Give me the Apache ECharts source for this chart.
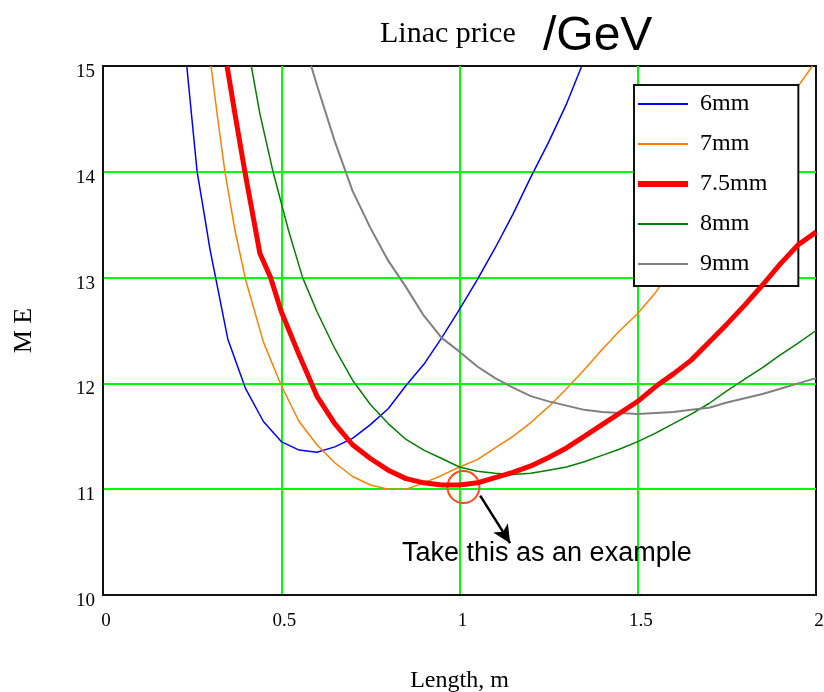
<!DOCTYPE html>
<html>
<head>
<meta charset="utf-8">
<script src="https://cdn.jsdelivr.net/npm/echarts@6/dist/echarts.min.js"></script>
<style>
html,body{margin:0;padding:0;background:#fff;}
#chart{width:824px;height:692px;}
</style>
</head>
<body>
<div id="chart"></div>
<script>
// ---- data ----
const names = ['6mm', '7mm', '7.5mm', '8mm', '9mm'];

const x6 = [0.235,0.25,0.264,0.28,0.30,0.35,0.40,0.45,0.50,0.55,0.60,0.65,0.70,0.75,0.80,0.85,0.90,0.95,1.00,1.05,1.10,1.15,1.20,1.25,1.30,1.343];
const y6 = [15,14.48,14.0,13.68,13.27,12.42,11.95,11.64,11.45,11.37,11.35,11.40,11.48,11.61,11.76,11.98,12.18,12.43,12.70,12.98,13.28,13.60,13.95,14.28,14.64,15.0];

const x7 = [0.303,0.32,0.342,0.37,0.40,0.45,0.50,0.55,0.60,0.65,0.70,0.75,0.80,0.85,0.90,0.95,1.00,1.05,1.10,1.15,1.20,1.25,1.30,1.35,1.40,1.45,1.50,1.55,1.60,1.65,1.70,1.75,1.80,1.85,1.90,1.95,1.99];
const y7 = [15,14.55,14.0,13.45,12.98,12.39,11.98,11.64,11.42,11.25,11.12,11.04,11.00,11.00,11.06,11.13,11.21,11.28,11.39,11.50,11.63,11.78,11.95,12.13,12.32,12.50,12.66,12.86,13.10,13.34,13.58,13.83,14.07,14.32,14.57,14.81,15.0];

const x75 = [0.348,0.37,0.398,0.44,0.47,0.50,0.55,0.60,0.65,0.70,0.75,0.80,0.85,0.90,0.95,1.00,1.05,1.10,1.15,1.20,1.25,1.30,1.35,1.40,1.45,1.50,1.55,1.60,1.65,1.70,1.75,1.80,1.85,1.90,1.95,2.00];
const y75 = [15,14.55,14.0,13.23,13.0,12.68,12.27,11.88,11.62,11.42,11.29,11.18,11.10,11.06,11.04,11.04,11.06,11.11,11.16,11.22,11.30,11.39,11.50,11.61,11.72,11.83,11.97,12.09,12.22,12.39,12.56,12.74,12.93,13.13,13.31,13.43];

const x8 = [0.416,0.44,0.477,0.52,0.56,0.60,0.65,0.70,0.75,0.80,0.85,0.90,0.95,1.00,1.05,1.10,1.15,1.20,1.25,1.30,1.35,1.40,1.45,1.50,1.55,1.60,1.65,1.70,1.75,1.80,1.85,1.90,1.95,2.00];
const y8 = [15,14.55,14.0,13.45,13.0,12.68,12.33,12.03,11.80,11.62,11.47,11.37,11.29,11.21,11.17,11.15,11.14,11.15,11.18,11.21,11.26,11.32,11.38,11.45,11.53,11.62,11.71,11.81,11.93,12.04,12.15,12.27,12.38,12.50];

const x9 = [0.584,0.60,0.65,0.70,0.75,0.80,0.85,0.90,0.95,1.00,1.05,1.10,1.15,1.20,1.25,1.30,1.35,1.40,1.45,1.50,1.55,1.60,1.65,1.70,1.75,1.80,1.85,1.90,1.95,2.00];
const y9 = [15,14.82,14.29,13.82,13.47,13.16,12.91,12.64,12.43,12.30,12.16,12.05,11.96,11.88,11.83,11.79,11.75,11.73,11.72,11.71,11.72,11.73,11.75,11.77,11.82,11.86,11.90,11.95,12.00,12.05];

const xTicks = ['0', '0.5', '1', '1.5', '2'];
const yTicks = ['10', '11', '12', '13', '14', '15'];

// annotation (data coordinates)
const circlePt = [1.011, 11.02];
const arrowFrom = [1.058, 10.94];
const arrowTo = [1.142, 10.49];
const notePt = [1.245, 10.39];
const noteText = 'Take this as an example';

// ---- build ----
function pairs(xs, ys){ return xs.map((x,i)=>[x, ys[i]]); }
const colors = ['#0000ff', '#ff8000', '#ff0000', '#008000', '#808080'];
const widths = [1.5, 1.5, 5, 1.5, 2];
const xs = [x6, x7, x75, x8, x9];
const ys = [y6, y7, y75, y8, y9];

const series = names.map((n, i) => ({
  name: n,
  type: 'line',
  data: pairs(xs[i], ys[i]),
  symbol: 'none',
  smooth: false,
  clip: true,
  z: i === 2 ? 5 : 3,
  lineStyle: { color: colors[i], width: widths[i] },
  itemStyle: { color: colors[i] }
}));

series[2].markPoint = {
  silent: true,
  animation: false,
  data: [
    { coord: circlePt, symbol: 'circle', symbolSize: 32,
      itemStyle: { color: 'rgba(0,0,0,0)', borderColor: '#ff4a1a', borderWidth: 2 },
      label: { show: false } },
    { coord: notePt, symbol: 'circle', symbolSize: 1,
      itemStyle: { color: 'rgba(0,0,0,0)' },
      label: { show: true, position: 'inside', formatter: noteText,
        fontFamily: 'Liberation Sans', fontSize: 27, color: '#000' } }
  ]
};
series[2].markLine = {
  silent: true,
  animation: false,
  symbol: ['none', 'arrow'],
  symbolSize: [13, 18],
  lineStyle: { color: '#000', width: 2.5, type: 'solid' },
  label: { show: false },
  data: [[{ coord: arrowFrom }, { coord: arrowTo }]]
};

const chart = echarts.init(document.getElementById('chart'), null, { renderer: 'canvas' });
chart.setOption({
  animation: false,
  backgroundColor: '#fff',
  title: [
    { text: 'Linac price', left: 375, top: 14,
      textStyle: { fontFamily: 'Liberation Serif', fontSize: 30, fontWeight: 'normal', color: '#000' } },
    { text: '/GeV', left: 538, top: 8,
      textStyle: { fontFamily: 'Liberation Sans', fontSize: 48, fontWeight: 'normal', color: '#000' } }
  ],
  grid: { left: 103, right: 8, top: 66, bottom: 97, outerBoundsMode: 'none', containLabel: false,
    show: true, borderColor: '#111', borderWidth: 2, backgroundColor: 'rgba(0,0,0,0)' },
  legend: {
    data: names.map((n, i) => ({ name: n, lineStyle: { width: i === 2 ? 6 : 2 } })),
    orient: 'vertical',
    left: 634, top: 85,
    padding: [7, 31, 10, 1],
    itemWidth: 50, itemHeight: 20, itemGap: 16,
    backgroundColor: '#fff',
    borderColor: '#111', borderWidth: 2,
    itemStyle: { opacity: 0 },
    textStyle: { fontFamily: 'Liberation Serif', fontSize: 24, color: '#000', padding: [0, 0, 0, 7] },
    selectedMode: false
  },
  xAxis: {
    type: 'value', min: 0, max: 2, interval: 0.5,
    name: 'Length, m', nameLocation: 'middle', nameGap: 74,
    nameTextStyle: { fontFamily: 'Liberation Serif', fontSize: 24, color: '#000' },
    axisLine: { show: true, onZero: false, lineStyle: { color: '#111', width: 2 } },
    axisTick: { show: false },
    axisLabel: { margin: 17, fontFamily: 'Liberation Serif', fontSize: 19, color: '#000',
      padding: [0, 0, 0, 6],
      formatter: (v) => xTicks[Math.round(v / 0.5)] },
    splitLine: { show: true, showMinLine: false, showMaxLine: false, lineStyle: { color: '#00ff00', width: 2 } }
  },
  yAxis: {
    type: 'value', min: 10, max: 15, interval: 1,
    name: 'M E', nameLocation: 'middle', nameGap: 66,
    nameTextStyle: { fontFamily: 'Liberation Serif', fontSize: 26, color: '#000' },
    axisLine: { show: true, onZero: false, lineStyle: { color: '#111', width: 2 } },
    axisTick: { show: false },
    axisLabel: { margin: 8, fontFamily: 'Liberation Serif', fontSize: 19, color: '#000',
      verticalAlign: 'top', lineHeight: 12,
      formatter: (v) => yTicks[Math.round(v - 10)] },
    splitLine: { show: true, showMinLine: false, showMaxLine: false, lineStyle: { color: '#00ff00', width: 2 } }
  },
  series: series
});
</script>
</body>
</html>
